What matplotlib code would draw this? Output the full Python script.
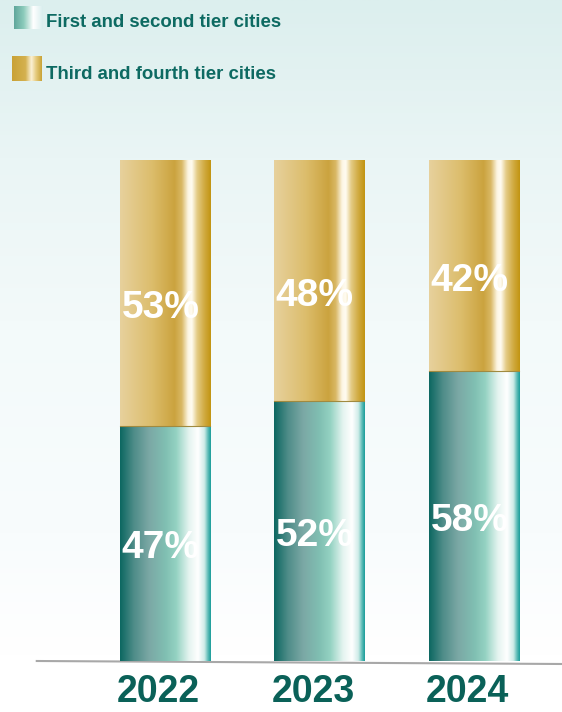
import numpy as np
import matplotlib
matplotlib.use("Agg")
import matplotlib.pyplot as plt
from matplotlib.colors import LinearSegmentedColormap

plt.rcParams['font.family'] = ['Liberation Sans', 'DejaVu Sans']

# data
years = ['2022', '2023', '2024']
tier12 = [47, 52, 58]
tier34 = [53, 48, 42]
legend_labels = ['First and second tier cities', 'Third and fourth tier cities']

teal_cmap = LinearSegmentedColormap.from_list('teal', [
    (0.0, '#0c6761'), (0.15, '#4e8c88'), (0.32, '#7ba8a5'), (0.5, '#80bfb2'),
    (0.62, '#94d2c2'), (0.76, '#e4f4f0'), (0.86, '#ffffff'), (0.93, '#cfece8'),
    (0.97, '#5bbbb6'), (1.0, '#1a9c9a')])
gold_cmap = LinearSegmentedColormap.from_list('gold', [
    (0.0, '#e7d19d'), (0.35, '#dcbd6c'), (0.6, '#cba33e'), (0.68, '#d9b865'),
    (0.75, '#fdf6e4'), (0.79, '#fffcf2'), (0.85, '#e4cb85'), (0.93, '#d0aa40'),
    (1.0, '#c29412')])
teal_swatch = LinearSegmentedColormap.from_list('tsw', ['#5fa69b', '#8ccbbb', '#ffffff', '#d9eeee'])
gold_swatch = LinearSegmentedColormap.from_list('gsw', [
    (0.0, '#c9a236'), (0.45, '#d4b14f'), (0.65, '#fbf1d6'), (0.8, '#e6cc80'), (1.0, '#c9a236')])

grad = np.linspace(0, 1, 256).reshape(1, -1)

fig = plt.figure(figsize=(5.62, 7.12), dpi=100)

# background
bg = fig.add_axes([0, 0, 1, 1])
bg_cmap = LinearSegmentedColormap.from_list('bg', [
    (0, '#ffffff'), (0.08, '#ffffff'), (0.25, '#f8fcfd'), (0.55, '#f3fafa'),
    (0.78, '#eaf5f5'), (1, '#dcefee')])
bg.imshow(np.linspace(0, 1, 256).reshape(-1, 1), cmap=bg_cmap, aspect='auto',
          origin='lower', extent=[0, 1, 0, 1])
bg.set_axis_off()

ax = fig.add_axes([0, 0, 1, 1])
ax.patch.set_alpha(0)
ax.set_axis_off()

x = np.arange(len(years))
width = 0.583

b1 = ax.bar(x, tier12, width, fill=False, linewidth=0)
b2 = ax.bar(x, tier34, width, bottom=tier12, fill=False, linewidth=0)

for bars, cmap in ((b1, teal_cmap), (b2, gold_cmap)):
    for r in bars:
        x0, y0 = r.get_x(), r.get_y()
        ax.imshow(grad, cmap=cmap, aspect='auto', interpolation='bicubic',
                  extent=[x0, x0 + r.get_width(), y0, y0 + r.get_height()], zorder=2)

# thin seam between segments
for i in range(len(years)):
    ax.plot([x[i] - width / 2, x[i] + width / 2], [tier12[i], tier12[i]], color='#a08a40', lw=0.8, zorder=3)

# value labels
for i in range(len(years)):
    ax.text(x[i] - 0.03, tier12[i] / 2 - 1, f'{tier12[i]}%', color='white', fontsize=28,
            fontweight='bold', ha='center', va='center', zorder=4)
    ax.text(x[i] - 0.03, tier12[i] + tier34[i] / 2 - 3, f'{tier34[i]}%', color='white', fontsize=28,
            fontweight='bold', ha='center', va='center', zorder=4)

# baseline and year labels
ax.plot([-0.83, 2.57], [0, -0.6], color='#a8a8a8', lw=1.5, zorder=1)
for i, yr in enumerate(years):
    ax.text(x[i] - 0.04, -6.2, yr, color='#0a6158', fontsize=27, fontweight='bold',
            ha='center', va='center')

# legend
ax.imshow(grad, cmap=teal_swatch, aspect='auto', extent=[0.025, 0.0765, 0.9593, 0.9916],
          transform=ax.transAxes, zorder=3)
ax.imshow(grad, cmap=gold_swatch, aspect='auto', extent=[0.0214, 0.0747, 0.886, 0.921],
          transform=ax.transAxes, zorder=3)
ax.text(0.082, 0.968, legend_labels[0], transform=ax.transAxes, color='#0d6a62',
        fontsize=13.4, fontweight='bold', va='center', ha='left')
ax.text(0.082, 0.895, legend_labels[1], transform=ax.transAxes, color='#0d6a62',
        fontsize=13.4, fontweight='bold', va='center', ha='left')

ax.set_xlim(-1.068, 2.57)
ax.set_ylim(-10.2, 132.2)

fig.savefig('out.png', dpi=100)
